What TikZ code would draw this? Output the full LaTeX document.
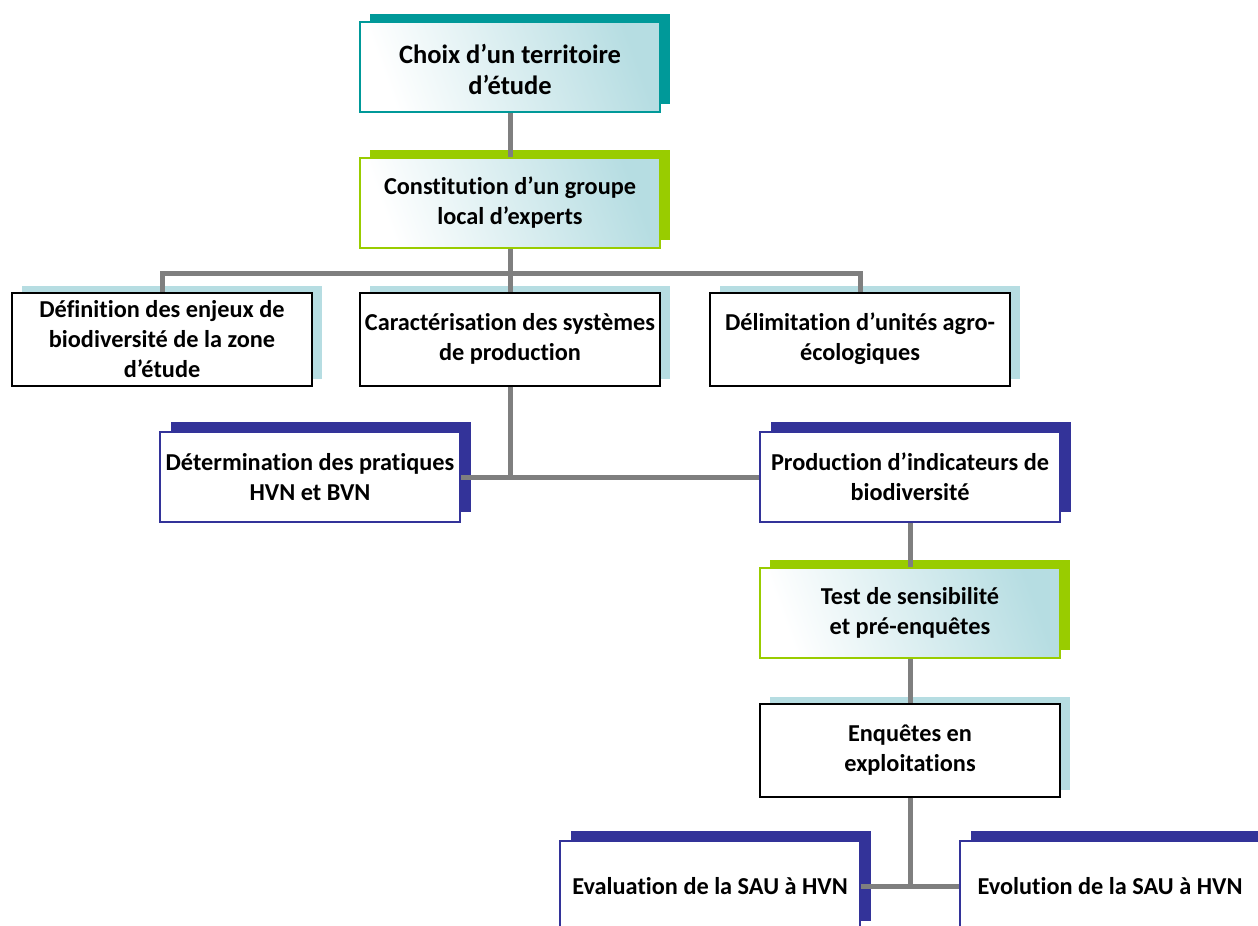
\documentclass[tikz,border=0pt]{standalone}
\usepackage{fontspec}
\setmainfont{Carlito}[Ligatures=NoCommon]
\usetikzlibrary{shadows}
\definecolor{tealS}{RGB}{0,153,153}
\definecolor{greenS}{RGB}{153,204,0}
\definecolor{blueS}{RGB}{51,51,153}
\definecolor{lightB}{RGB}{182,221,226}
\definecolor{lineG}{RGB}{127,127,127}
\begin{document}
\begin{tikzpicture}[x=1pt,y=-1pt,
  box/.style={minimum width=300pt, minimum height=90pt, inner sep=0pt, align=center,
    font=\bfseries\fontsize{24.3}{30}\selectfont},
  gradfill/.style={top color=lightB, bottom color=white, shading angle=-70},
  tealbox/.style={box, gradfill, draw=tealS, line width=1.5pt,
    font=\bfseries\fontsize{26.5}{31}\selectfont,
    drop shadow={fill=tealS, opacity=1, shadow xshift=10pt, shadow yshift=8pt}},
  greenbox/.style={box, gradfill, draw=greenS, line width=1.5pt,
    drop shadow={fill=greenS, opacity=1, shadow xshift=10pt, shadow yshift=8pt}},
  blackbox/.style={box, fill=white, draw=black, line width=2pt, minimum height=93pt,
    drop shadow={fill=lightB, opacity=1, shadow xshift=10pt, shadow yshift=7pt}},
  bluebox/.style={box, fill=white, draw=blueS, line width=1.5pt,
    drop shadow={fill=blueS, opacity=1, shadow xshift=11pt, shadow yshift=10pt}},
  conn/.style={draw=lineG, line width=5pt, line join=miter}
]
\useasboundingbox (0,0) rectangle (1258,926);
\clip (0,0) rectangle (1258,926);

\node[tealbox] (top) at (510,67) {\rule{0pt}{24pt}Choix d’un territoire\\d’étude};
\node[greenbox] (grp) at (510,203) {Constitution d’un groupe\\local d’experts};
\node[blackbox] (def) at (162,339) {Définition des enjeux de\\biodiversité de la zone\\d’étude};
\node[blackbox] (car) at (510,339) {Caractérisation des systèmes\\de production};
\node[blackbox] (del) at (860,339) {Délimitation d’unités agro-\\écologiques};
\node[bluebox] (det) at (310,477) {Détermination des pratiques\\HVN et BVN};
\node[bluebox] (pro) at (910,477) {Production d’indicateurs de\\biodiversité};
\node[greenbox] (tes) at (910,613) {Test de sensibilité\\et pré-enquêtes};
\node[blackbox] (enq) at (910,750) {Enquêtes en\\exploitations};
\node[bluebox] (eva) at (710,886) {Evaluation de la SAU à HVN};
\node[bluebox] (evo) at (1110,886) {Evolution de la SAU à HVN};

\coordinate (bus) at (510,273);
\draw[conn] (top.south) -- (grp.north);
\draw[conn] (grp.south) -- (car.north);
\draw[conn] (def.north) |- (bus) -| (del.north);
\draw[conn] (car.south) -- (car.south |- det.east);
\draw[conn] (det.east) -- (pro.west);
\draw[conn] (pro.south) -- (tes.north);
\draw[conn] (tes.south) -- (enq.north);
\draw[conn] (enq.south) -- (enq.south |- eva.east);
\draw[conn] (eva.east) -- (evo.west);
\end{tikzpicture}
\end{document}
